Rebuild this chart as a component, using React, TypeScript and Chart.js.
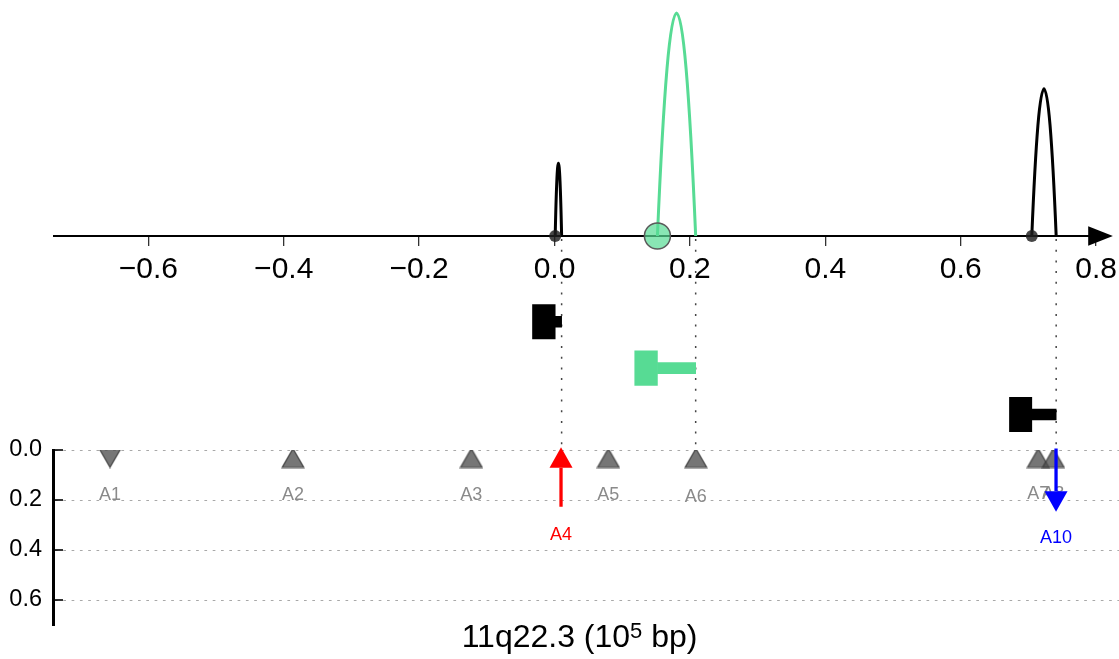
import React, { useEffect, useRef } from 'react';
import { Chart, registerables } from 'chart.js';

Chart.register(...registerables);

const FONT = "'Liberation Sans', Arial, Helvetica, sans-serif";

// ---- top panel (arcs) x axis ----
const xMin = -0.7408;
const xMax = 0.8338;
const xAxisEnd = 0.806;
const xTickValues = [-0.6, -0.4, -0.2, 0.0, 0.2, 0.4, 0.6, 0.8];
const xTitleMain = '11q22.3 (10';
const xTitleSup = '5';
const xTitleTail = ' bp)';

// ---- genes ----
const geneRow = [1, 2, 3];
const geneBlockStart = [-0.0325, 0.1185, 0.672];
const geneTss = [0.001, 0.152, 0.705];
const geneEnd = [0.0105, 0.2085, 0.741];
const arcHeight = [0.98, 3.0, 1.98];
const geneColor = ['#000000', '#57DB94', '#000000'];
const tssDotColor = ['rgba(30,30,30,0.82)', 'rgba(87,219,148,0.7)', 'rgba(30,30,30,0.82)'];
const tssDotRadius = [6, 13, 6];

// ---- bottom panel (markers) ----
const yBotTicks = [0.0, 0.2, 0.4, 0.6];
const markerNames = ['A1', 'A2', 'A3', 'A4', 'A5', 'A6', 'A7', 'A8', 'A10'];
const markerX = [-0.6566, -0.3863, -0.1229, 0.0096, 0.0795, 0.2088, 0.7146, 0.7368, 0.7408];
const markerY = [0.032, 0.032, 0.032, 0.032, 0.032, 0.032, 0.032, 0.032, 0.032];
const markerKind = ['down', 'up', 'up', 'arrow', 'up', 'up', 'up', 'up', 'arrow'];
const markerLabelY = [0.18, 0.182, 0.182, 0.339, 0.18, 0.188, 0.178, 0.178, 0.351];
const markerColor = ['#8a8a8a', '#8a8a8a', '#8a8a8a', '#ff0000', '#8a8a8a', '#8a8a8a', '#8a8a8a', '#8a8a8a', '#0000ff'];
const arrowFrom = [null, null, null, 0.227, null, null, null, null, -0.006];
const arrowTo = [null, null, null, -0.011, null, null, null, null, 0.247];

const fmtX = (v: number) => (v < -1e-9 ? '\u2212' : '') + Math.abs(v).toFixed(1);

function makeTriangle(dir: string): HTMLCanvasElement {
  const c = document.createElement('canvas');
  c.width = 24;
  c.height = 21;
  const g = c.getContext('2d')!;
  g.beginPath();
  if (dir === 'up') {
    g.moveTo(12, 1.2);
    g.lineTo(1.2, 19.8);
    g.lineTo(22.8, 19.8);
  } else {
    g.moveTo(12, 19.8);
    g.lineTo(1.2, 1.2);
    g.lineTo(22.8, 1.2);
  }
  g.closePath();
  g.fillStyle = 'rgba(80,80,80,0.78)';
  g.fill();
  g.strokeStyle = 'rgba(60,60,60,0.85)';
  g.lineWidth = 1.3;
  g.stroke();
  return c;
}

const zeroPad = (s: any) => {
  s.paddingTop = 0;
  s.paddingBottom = 0;
  s.paddingLeft = 0;
  s.paddingRight = 0;
};
const leftBox = (s: any) => {
  s.width = 53;
  zeroPad(s);
};
const emptyBox = (s: any) => {
  s.width = 0;
  zeroPad(s);
};

const decorPlugin = {
  id: 'decor',
  beforeDatasetsDraw(chart: any) {
    const { ctx, chartArea, scales } = chart;
    const x = scales.x;
    const yT = scales.y;
    const yB = scales.yBot;
    const y0 = yT.getPixelForValue(0);
    const yb0 = yB.getPixelForValue(0);
    ctx.save();
    // dotted horizontal grid of bottom panel
    ctx.strokeStyle = '#a8a8a8';
    ctx.lineWidth = 1;
    ctx.setLineDash([2.7, 5.6]);
    yBotTicks.forEach((v) => {
      const py = Math.round(yB.getPixelForValue(v)) + 0.5;
      ctx.beginPath();
      ctx.moveTo(chartArea.left + 2, py);
      ctx.lineTo(chart.width, py);
      ctx.stroke();
    });
    // dotted connectors from gene ends
    ctx.strokeStyle = '#444';
    ctx.lineWidth = 1.5;
    ctx.setLineDash([2, 8.7]);
    geneEnd.forEach((e) => {
      const px = x.getPixelForValue(e);
      ctx.beginPath();
      ctx.moveTo(px, y0 + 3);
      ctx.lineTo(px, yb0);
      ctx.stroke();
    });
    ctx.setLineDash([]);
    // inward ticks of the bottom axis
    ctx.strokeStyle = '#000';
    ctx.lineWidth = 1.6;
    yBotTicks.forEach((v) => {
      const py = yB.getPixelForValue(v);
      ctx.beginPath();
      ctx.moveTo(chartArea.left, py);
      ctx.lineTo(chartArea.left + 10, py);
      ctx.stroke();
    });
    // top axis line with arrow head
    const xe = x.getPixelForValue(xAxisEnd);
    ctx.lineWidth = 2;
    ctx.beginPath();
    ctx.moveTo(chartArea.left, y0);
    ctx.lineTo(xe, y0);
    ctx.stroke();
    ctx.fillStyle = '#000';
    ctx.beginPath();
    ctx.moveTo(xe - 12, y0 - 9.8);
    ctx.lineTo(xe + 12.7, y0);
    ctx.lineTo(xe - 12, y0 + 9.8);
    ctx.closePath();
    ctx.fill();
    // arcs
    ctx.lineWidth = 3;
    ctx.lineJoin = 'round';
    geneTss.forEach((s, i) => {
      const p0 = x.getPixelForValue(s);
      const p1 = x.getPixelForValue(geneEnd[i]);
      const cy = yT.getPixelForValue(2 * arcHeight[i]);
      ctx.strokeStyle = geneColor[i];
      ctx.beginPath();
      ctx.moveTo(p0, y0);
      ctx.quadraticCurveTo((p0 + p1) / 2, cy, p1, y0);
      ctx.stroke();
    });
    ctx.restore();
  },
  afterDatasetsDraw(chart: any) {
    const { ctx, chartArea, scales } = chart;
    const x = scales.x;
    const yB = scales.yBot;
    ctx.save();
    // marker labels
    ctx.font = `18px ${FONT}`;
    ctx.textAlign = 'center';
    ctx.textBaseline = 'middle';
    markerNames.forEach((n, i) => {
      ctx.fillStyle = markerColor[i];
      ctx.fillText(n, x.getPixelForValue(markerX[i]), yB.getPixelForValue(markerLabelY[i]));
    });
    // arrows
    markerNames.forEach((n, i) => {
      if (markerKind[i] !== 'arrow') return;
      const px = x.getPixelForValue(markerX[i]);
      const pf = yB.getPixelForValue(arrowFrom[i] as number);
      const pt = yB.getPixelForValue(arrowTo[i] as number);
      const dir = pt > pf ? 1 : -1;
      const base = pt - dir * 20.5;
      ctx.strokeStyle = markerColor[i];
      ctx.fillStyle = markerColor[i];
      ctx.lineWidth = 3.3;
      ctx.beginPath();
      ctx.moveTo(px, pf);
      ctx.lineTo(px, base);
      ctx.stroke();
      ctx.beginPath();
      ctx.moveTo(px - 11.5, base);
      ctx.lineTo(px + 11.5, base);
      ctx.lineTo(px, pt);
      ctx.closePath();
      ctx.fill();
    });
    // x axis title with superscript
    const mainFont = `32px ${FONT}`;
    const supFont = `22px ${FONT}`;
    ctx.textAlign = 'left';
    ctx.textBaseline = 'alphabetic';
    ctx.fillStyle = '#000';
    ctx.font = mainFont;
    const w1 = ctx.measureText(xTitleMain).width;
    const w3 = ctx.measureText(xTitleTail).width;
    ctx.font = supFont;
    const w2 = ctx.measureText(xTitleSup).width;
    const cx = (chartArea.left + x.getPixelForValue(xAxisEnd)) / 2 + 3;
    const by = chartArea.bottom + 21;
    let sx = cx - (w1 + w2 + w3) / 2;
    ctx.font = mainFont;
    ctx.fillText(xTitleMain, sx, by);
    sx += w1;
    ctx.font = supFont;
    ctx.fillText(xTitleSup, sx, by - 9);
    sx += w2;
    ctx.font = mainFont;
    ctx.fillText(xTitleTail, sx, by);
    ctx.restore();
  },
};

export default function App() {
  const ref = useRef<HTMLCanvasElement | null>(null);
  useEffect(() => {
    if (!ref.current) return;
    const triIdx = markerKind.map((k, i) => (k === 'arrow' ? -1 : i)).filter((i) => i >= 0);
    const triImages = triIdx.map((i) => makeTriangle(markerKind[i]));
    const chart = new Chart(ref.current, {
      type: 'scatter',
      data: {
        datasets: [
          {
            type: 'scatter',
            label: 'tss',
            xAxisID: 'x',
            yAxisID: 'y',
            data: geneTss.map((s) => ({ x: s, y: 0 })),
            pointRadius: tssDotRadius,
            pointBackgroundColor: tssDotColor,
            pointBorderColor: ['rgba(0,0,0,0)', '#5a5a5a', 'rgba(0,0,0,0)'],
            pointBorderWidth: [0, 1.5, 0],
          } as any,
          {
            type: 'scatter',
            label: 'markers',
            xAxisID: 'x',
            yAxisID: 'yBot',
            data: triIdx.map((i) => ({ x: markerX[i], y: markerY[i] })),
            pointStyle: triImages,
            pointRadius: 12,
          } as any,
          {
            type: 'bar',
            label: 'block',
            indexAxis: 'y',
            xAxisID: 'x',
            yAxisID: 'yGene',
            grouped: false,
            barThickness: 34.5,
            borderWidth: 0,
            backgroundColor: geneColor,
            data: geneRow.map((r, i) => ({ y: r, x: [geneBlockStart[i], geneTss[i]] })),
          } as any,
          {
            type: 'bar',
            label: 'body',
            indexAxis: 'y',
            xAxisID: 'x',
            yAxisID: 'yGene',
            grouped: false,
            barThickness: 11,
            borderWidth: 0,
            backgroundColor: geneColor,
            data: geneRow.map((r, i) => ({ y: r, x: [geneTss[i], geneEnd[i]] })),
          } as any,
        ],
      },
      options: {
        responsive: false,
        animation: false,
        events: [],
        layout: { autoPadding: false, padding: { left: 0, right: 0, top: 0, bottom: 33.5 } },
        plugins: { legend: { display: false }, tooltip: { enabled: false }, title: { display: false } },
        scales: {
          x: {
            type: 'linear',
            position: { y: 0 } as any,
            min: xMin,
            max: xMax,
            offset: false,
            afterBuildTicks: (s: any) => {
              s.ticks = xTickValues.map((v) => ({ value: v }));
            },
            afterFit: zeroPad,
            ticks: {
              autoSkip: false,
              maxRotation: 0,
              padding: 5.6,
              color: '#000',
              font: { family: FONT, size: 30 },
              callback: (v: any) => fmtX(Number(v)),
            },
            grid: { drawOnChartArea: false, drawTicks: true, tickLength: 10, color: '#333', lineWidth: 1.3 },
            border: { display: false },
          },
          y: {
            type: 'linear',
            axis: 'y',
            position: 'left',
            stack: 'v',
            stackWeight: 450,
            weight: 2,
            display: true,
            offset: false,
            min: -2.879,
            max: 3.175,
            ticks: { display: false },
            grid: { display: false, drawTicks: false },
            border: { display: false },
            afterFit: leftBox,
          },
          yBot: {
            type: 'linear',
            axis: 'y',
            position: 'left',
            stack: 'v',
            stackWeight: 175.5,
            weight: 1,
            reverse: true,
            offset: false,
            min: 0,
            max: 0.702,
            afterBuildTicks: (s: any) => {
              s.ticks = yBotTicks.map((v) => ({ value: v }));
            },
            afterFit: leftBox,
            ticks: {
              autoSkip: false,
              padding: 11,
              color: '#000',
              font: { family: FONT, size: 23.5 },
              callback: (v: any) => Number(v).toFixed(1),
            },
            grid: { display: false, drawTicks: false },
            border: { display: true, color: '#000', width: 3 },
          },
          yGene: {
            type: 'linear',
            axis: 'y',
            position: 'left',
            display: true,
            reverse: true,
            offset: false,
            weight: 0,
            min: -5.933,
            max: 7.547,
            ticks: { display: false },
            grid: { display: false, drawTicks: false, offset: false },
            border: { display: false },
            afterFit: emptyBox,
          },
        } as any,
      },
      plugins: [decorPlugin],
    });
    return () => chart.destroy();
  }, []);
  return (
    <div style={{ position: 'absolute', left: 0, top: 0, width: 1119, height: 659, background: '#fff' }}>
      <canvas ref={ref} width={1119} height={659} style={{ display: 'block' }} />
    </div>
  );
}
